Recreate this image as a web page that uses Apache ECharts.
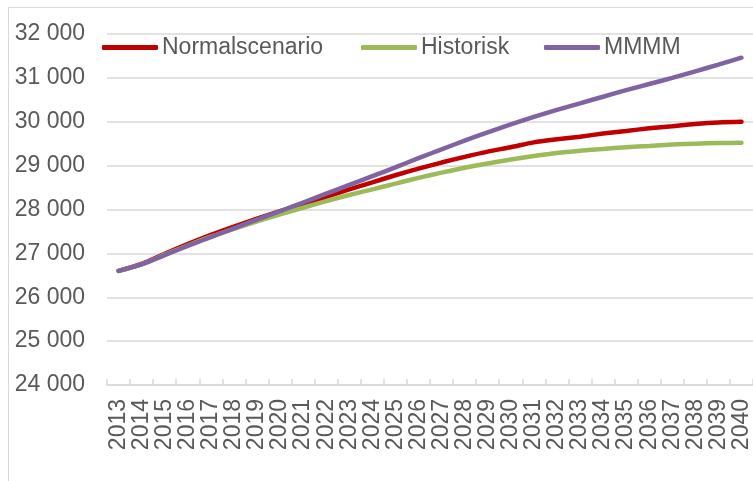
<!DOCTYPE html>
<html>
<head>
<meta charset="utf-8">
<script src="https://cdn.jsdelivr.net/npm/echarts@6/dist/echarts.min.js"></script>
<style>
  html, body { margin: 0; padding: 0; background: #fff; }
  #chart { width: 753px; height: 481px; }
</style>
</head>
<body>
<div id="chart"></div>
<script>
// data
const years = ['2013','2014','2015','2016','2017','2018','2019','2020','2021','2022','2023','2024','2025','2026',
  '2027','2028','2029','2030','2031','2032','2033','2034','2035','2036','2037','2038','2039','2040'];

const normalscenario = [26600, 26760, 26990, 27210, 27420, 27610, 27790, 27960, 28120, 28290, 28460, 28620, 28780, 28930,
  29070, 29200, 29320, 29420, 29530, 29600, 29660, 29730, 29790, 29850, 29900, 29950, 29985, 30000];

const historisk = [26600, 26750, 26970, 27180, 27380, 27560, 27730, 27890, 28040, 28190, 28330, 28460, 28590, 28720,
  28840, 28950, 29050, 29140, 29220, 29290, 29340, 29380, 29420, 29450, 29480, 29500, 29515, 29520];

const mmmm = [26600, 26750, 26960, 27170, 27370, 27570, 27770, 27960, 28160, 28360, 28560, 28760, 28960, 29170,
  29370, 29570, 29760, 29940, 30110, 30270, 30420, 30570, 30720, 30860, 31000, 31150, 31300, 31460];

const seriesNames = ['Normalscenario', 'Historisk', 'MMMM'];
const seriesColors = ['#C00000', '#9BBB59', '#8064A2'];
const legendLeft = [97, 356, 539];

const textColor = '#595959';
const fontFamily = '"Liberation Sans", Arial, sans-serif';

var myChart = echarts.init(document.getElementById('chart'));

function mkLine(name, data, color) {
  return {
    name: name,
    type: 'line',
    data: data,
    smooth: 0.3,
    symbol: 'none',
    lineStyle: { color: color, width: 4.5, cap: 'round' },
    itemStyle: { color: color }
  };
}

// one legend per item so each sits where the original puts it
const legends = seriesNames.map(function (name, i) {
  return {
    top: 31,
    left: legendLeft[i],
    itemWidth: 56,
    itemHeight: 5,
    icon: 'roundRect',
    textStyle: { color: textColor, fontSize: 23, fontFamily: fontFamily, padding: [0, 0, 0, -1] },
    data: [name]
  };
});

var option = {
  backgroundColor: '#fff',
  animation: false,
  textStyle: { fontFamily: fontFamily },
  graphic: [{
    type: 'rect',
    shape: { x: 8.5, y: 7.5, width: 800, height: 500 },
    style: { fill: 'none', stroke: '#d9d9d9', lineWidth: 1 },
    silent: true
  }],
  legend: legends,
  grid: { left: 107, right: -4, top: 34, bottom: 96 },
  xAxis: {
    type: 'category',
    data: years,
    boundaryGap: true,
    axisLine: { lineStyle: { color: '#d9d9d9', width: 1.5 } },
    axisTick: { show: true, inside: true, length: 6, lineStyle: { color: '#d9d9d9', width: 1.5 } },
    axisLabel: { rotate: 90, margin: 14, color: textColor, fontSize: 23, fontFamily: fontFamily, interval: 0 }
  },
  yAxis: {
    type: 'value',
    min: 24000,
    max: 32000,
    interval: 1000,
    axisLine: { show: false },
    axisTick: { show: false },
    splitLine: { lineStyle: { color: '#d9d9d9', width: 1.5 } },
    axisLabel: {
      margin: 22,
      color: textColor,
      fontSize: 23,
      fontFamily: fontFamily,
      formatter: function (v) { return String(v).replace(/\B(?=(\d{3})+(?!\d))/g, ' '); }
    }
  },
  series: [
    mkLine(seriesNames[0], normalscenario, seriesColors[0]),
    mkLine(seriesNames[1], historisk, seriesColors[1]),
    mkLine(seriesNames[2], mmmm, seriesColors[2])
  ]
};

option && myChart.setOption(option);
</script>
</body>
</html>
